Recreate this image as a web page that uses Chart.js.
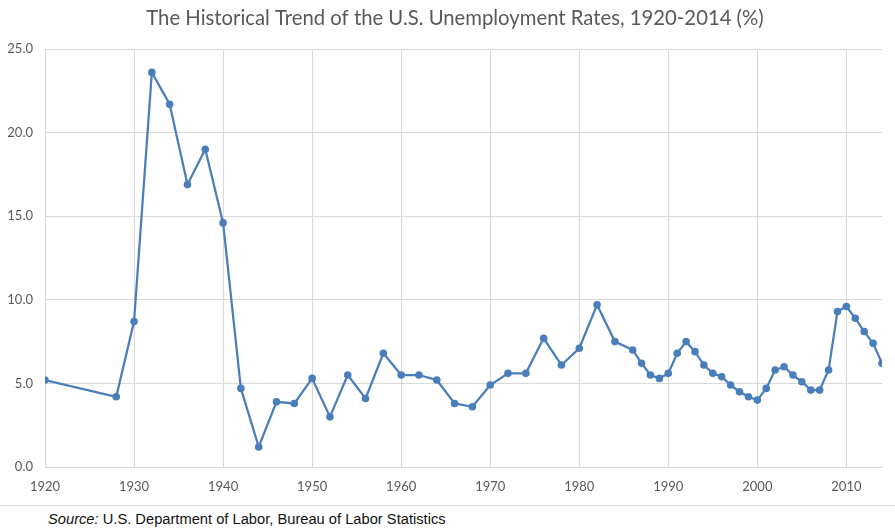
<!DOCTYPE html>
<html lang="en">
<head>
  <meta charset="UTF-8">
  <title>U.S. Unemployment Rates, 1920-2014</title>
  <script src="https://cdn.jsdelivr.net/npm/chart.js"></script>
  <style>
    body {
      margin: 0;
      background: #fff;
      width: 895px;
    }
    .chart-box {
      position: relative;
      width: 895px;
      height: 505px;
    }
    .source {
      border-top: 1px solid #d9d9d9;
      padding: 4px 0 0 48px;
      line-height: 18px;
      font-family: 'Liberation Sans', Arial, sans-serif;
      font-size: 14.7px;
      color: #111;
    }
  </style>
</head>
<body>
  <div class="chart-box">
    <canvas id="rateChart"></canvas>
  </div>
  <div class="source"><em>Source:</em> U.S. Department of Labor, Bureau of Labor Statistics</div>

  <script>
    const chartTitle = 'The Historical Trend of the U.S. Unemployment Rates, 1920-2014 (%)';
    const years = [1920, 1928, 1930, 1932, 1934, 1936, 1938, 1940, 1942, 1944, 1946, 1948,
      1950, 1952, 1954, 1956, 1958, 1960, 1962, 1964, 1966, 1968, 1970, 1972, 1974, 1976,
      1978, 1980, 1982, 1984, 1986, 1987, 1988, 1989, 1990, 1991, 1992, 1993, 1994, 1995,
      1996, 1997, 1998, 1999, 2000, 2001, 2002, 2003, 2004, 2005, 2006, 2007, 2008, 2009,
      2010, 2011, 2012, 2013, 2014];
    const rates = [5.2, 4.2, 8.7, 23.6, 21.7, 16.9, 19.0, 14.6, 4.7, 1.2, 3.9, 3.8,
      5.3, 3.0, 5.5, 4.1, 6.8, 5.5, 5.5, 5.2, 3.8, 3.6, 4.9, 5.6, 5.6, 7.7,
      6.1, 7.1, 9.7, 7.5, 7.0, 6.2, 5.5, 5.3, 5.6, 6.8, 7.5, 6.9, 6.1, 5.6,
      5.4, 4.9, 4.5, 4.2, 4.0, 4.7, 5.8, 6.0, 5.5, 5.1, 4.6, 4.6, 5.8, 9.3,
      9.6, 8.9, 8.1, 7.4, 6.2];

    // title drawn by hand so it can sit slightly right of centre like the original
    const titlePlugin = {
      id: 'titleText',
      afterDraw(chart) {
        const c = chart.ctx;
        c.save();
        c.font = '20.3px Lato, sans-serif';
        c.fillStyle = '#595959';
        c.textAlign = 'center';
        c.textBaseline = 'middle';
        c.fillText(chartTitle, 455, 18);
        c.restore();
      }
    };

    const gridColor = '#d9d9d9';
    const tickFont = { family: 'Lato, sans-serif', size: 13 };

    new Chart(document.getElementById('rateChart'), {
      type: 'line',
      data: {
        datasets: [{
          label: 'Unemployment rate',
          data: years.map((y, i) => ({ x: y, y: rates[i] })),
          borderColor: '#4a7ebb',
          backgroundColor: '#4a7ebb',
          borderWidth: 2.25,
          pointRadius: 3.8,
          pointBackgroundColor: '#4a7ebb',
          pointBorderWidth: 0,
          tension: 0
        }]
      },
      options: {
        responsive: true,
        maintainAspectRatio: false,
        animation: false,
        layout: { padding: { top: 49, right: 13, left: 0, bottom: 0 } },
        plugins: {
          legend: { display: false },
          tooltip: { enabled: false }
        },
        scales: {
          x: {
            type: 'linear',
            min: 1920,
            max: 2014,
            afterFit: s => { s.height = 38; },
            grid: { color: gridColor, drawTicks: false },
            border: { color: gridColor },
            ticks: {
              stepSize: 10,
              includeBounds: false,
              padding: 12,
              color: '#595959',
              font: tickFont,
              maxRotation: 0,
              callback: v => String(v)
            }
          },
          y: {
            min: 0,
            max: 25,
            afterFit: s => { s.width = 45; },
            grid: { color: gridColor, drawTicks: false },
            border: { color: gridColor },
            ticks: {
              stepSize: 5,
              padding: 12,
              color: '#595959',
              font: tickFont,
              callback: v => v.toFixed(1)
            }
          }
        }
      },
      plugins: [titlePlugin]
    });
  </script>
</body>
</html>
